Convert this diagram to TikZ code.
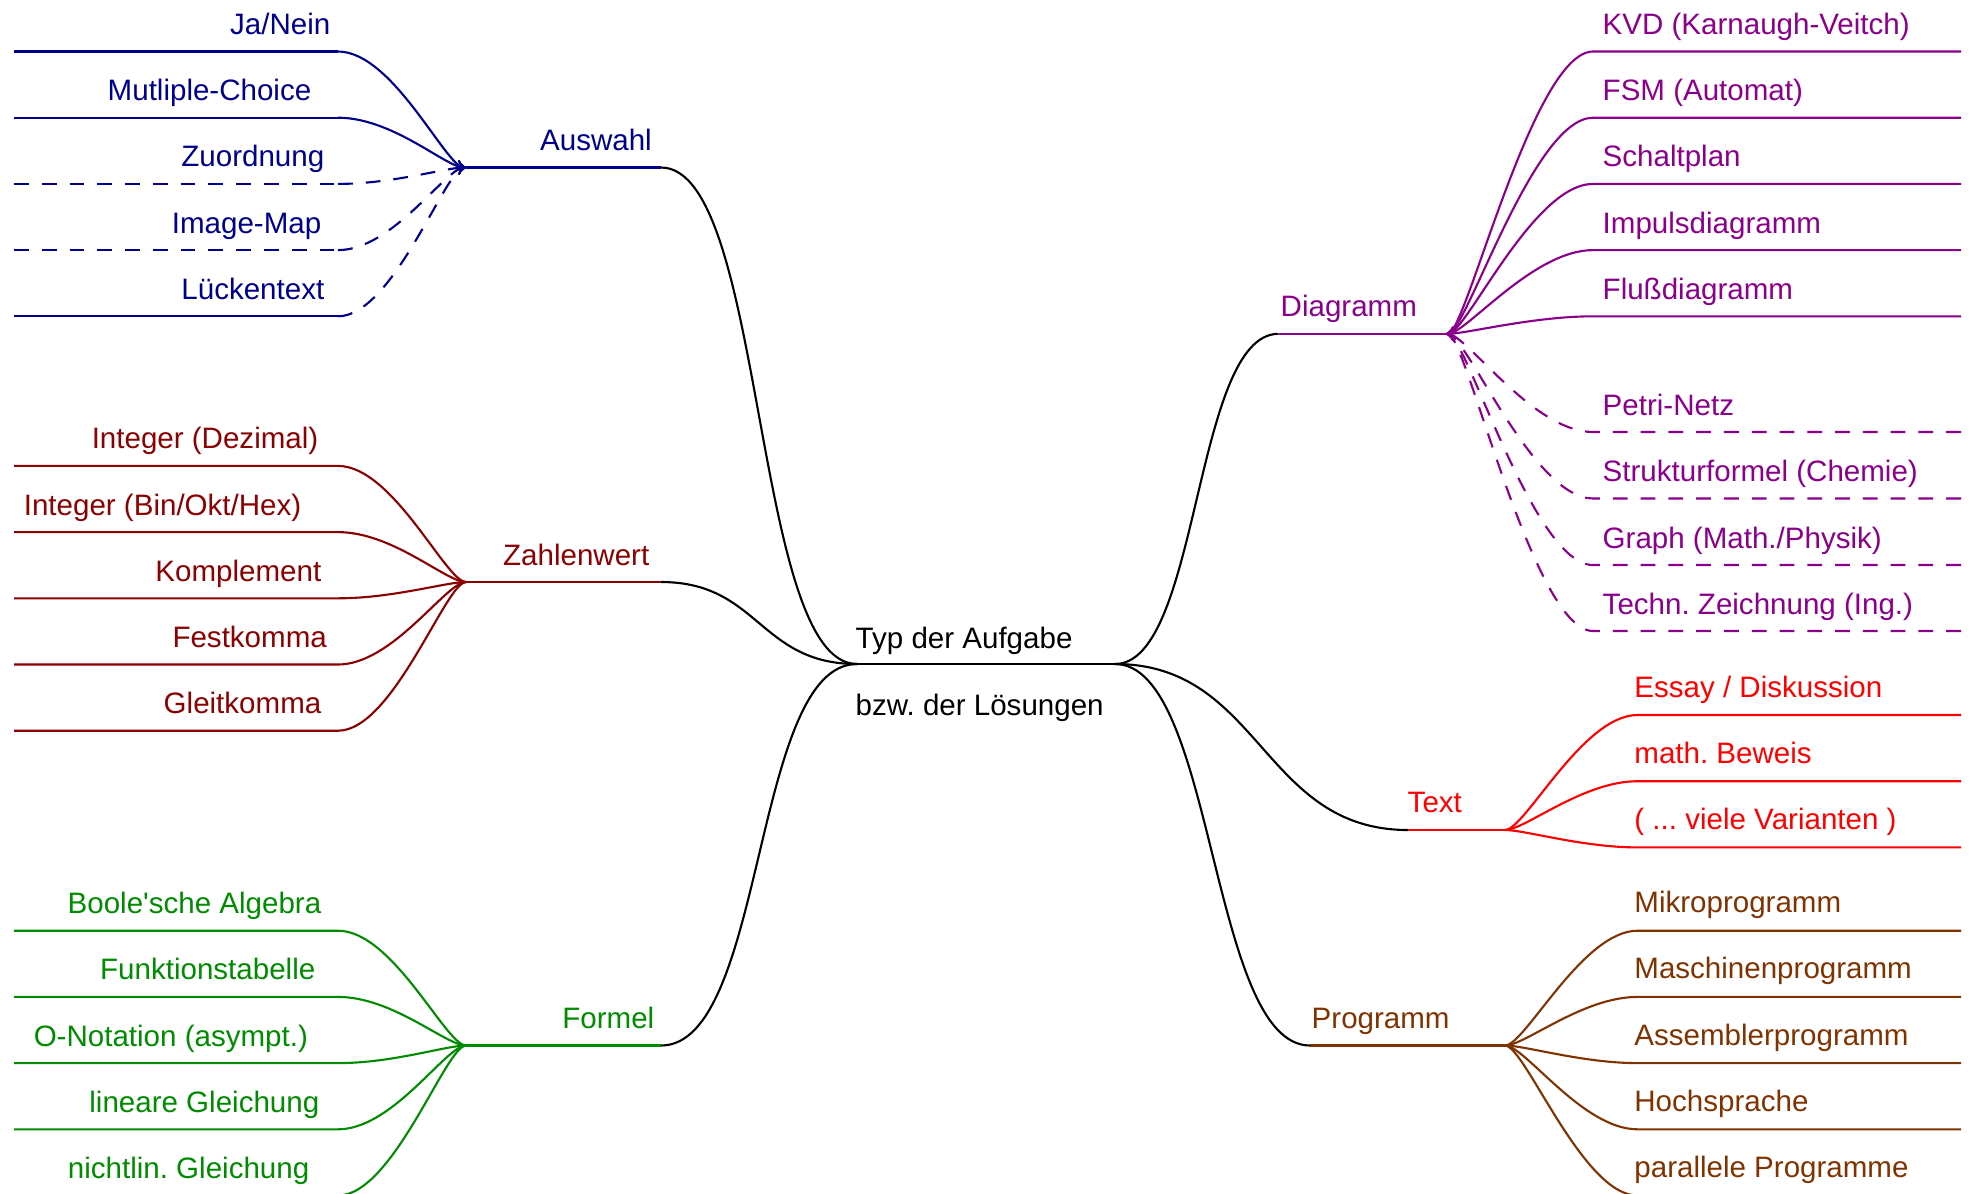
\documentclass[tikz,border=0pt]{standalone}
\usepackage{fontspec}
\setmainfont{Liberation Sans}
\frenchspacing
\definecolor{cAw}{RGB}{0,0,139}
\definecolor{cZw}{RGB}{139,0,0}
\definecolor{cFm}{RGB}{0,139,0}
\definecolor{cDg}{RGB}{139,0,139}
\definecolor{cTx}{RGB}{255,0,0}
\definecolor{cPr}{RGB}{128,51,0}
\newcommand\vielvar{( ... viele Varianten )}
\tikzset{
  ast/.style={line width=0.6pt},
  dsh/.style={dash pattern=on 4.2pt off 3.7pt},
  lbl/.style={inner sep=0pt, font=\fontsize{8.4}{10}\selectfont},
}
\begin{document}
\begin{tikzpicture}[x=0.01cm,y=-0.01cm]
    \useasboundingbox (0,0) rectangle (1975,1193);
    % Wurzel
    \coordinate (mW) at (857,664);
    \coordinate (mE) at (1115,664);
    \draw[ast] (mW) -- (mE);
    \node[lbl,anchor=base west] (typ) at (855,648) {Typ der Aufgabe};
    \node[lbl,anchor=base west] (bzw) at (855,715) {bzw. der Lösungen};
    % Aeste links
    \coordinate (awE) at (661,167.5);  \coordinate (aw) at (466,167.5);
    \coordinate (zwE) at (661,582);    \coordinate (zw) at (466,582);
    \coordinate (fmE) at (661,1045.5); \coordinate (fm) at (466,1045.5);
    \draw[ast] (mW) .. controls +(-105,0) and +(105,0) .. (awE);
    \draw[ast] (mW) .. controls +(-98,0) and +(98,0) .. (zwE);
    \draw[ast] (mW) .. controls +(-105,0) and +(105,0) .. (fmE);
    \draw[ast,cAw] (awE) -- (aw);
    \draw[ast,cZw] (zwE) -- (zw);
    \draw[ast,cFm] (fmE) -- (fm);
    \node[lbl,cAw,anchor=base east] (auswahl) at (652.5,150) {Auswahl};
    \node[lbl,cZw,anchor=base east] (zahlenwert) at (650,565) {Zahlenwert};
    \node[lbl,cFm,anchor=base east] (formel) at (655,1028.5) {Formel};
    % Aeste rechts
    \coordinate (dgE) at (1278.5,333.8); \coordinate (dg) at (1446,333.8);
    \coordinate (txE) at (1408,830);     \coordinate (tx) at (1505,830);
    \coordinate (prE) at (1310,1045.5);  \coordinate (pr) at (1505,1045.5);
    \draw[ast] (mE) .. controls +(85,0) and +(-85,0) .. (dgE);
    \draw[ast] (mE) .. controls +(146,0) and +(-146,0) .. (txE);
    \draw[ast] (mE) .. controls +(100,0) and +(-100,0) .. (prE);
    \draw[ast,cDg] (dgE) -- (dg);
    \draw[ast,cTx] (txE) -- (tx);
    \draw[ast,cPr] (prE) -- (pr);
    \node[lbl,cDg,anchor=base west] (diagramm) at (1280,316.5) {Diagramm};
    \node[lbl,cTx,anchor=base west] (text) at (1407,812.5) {Text};
    \node[lbl,cPr,anchor=base west] (programm) at (1311,1028.5) {Programm};

    % Blaetter Auswahl
    \foreach \n/\y/\xe/\txt/\stil/\kstil in {1/51.5/331/{Ja/Nein}/solid/solid,
        2/117.7/312/Mutliple-Choice/solid/solid, 3/183.9/325/Zuordnung/dsh/dsh,
        4/250.1/322/Image-Map/dsh/dsh, 5/316.3/325/Lückentext/solid/dsh}
    {
    \coordinate (aw\n a) at (14,\y); \coordinate (aw\n b) at (338,\y);
    \node[lbl,cAw,anchor=base east] (awl\n) at (\xe,\y-17) {\txt};
    \draw[ast,cAw,\stil] (aw\n a) -- (aw\n b);
    \draw[ast,cAw,\kstil,->] (aw\n b) .. controls +(55,0) and +(-20,0) .. (aw);
    }
    % Blaetter Zahlenwert
    \foreach \n/\y/\xe/\txt in {1/465.9/319/Integer (Dezimal),
        2/532.1/302/{Integer (Bin/Okt/Hex)}, 3/598.3/322/Komplement,
        4/664.5/327.5/Festkomma, 5/730.7/322/Gleitkomma}
    {
    \coordinate (zw\n a) at (14,\y); \coordinate (zw\n b) at (338,\y);
    \node[lbl,cZw,anchor=base east] (zwl\n) at (\xe,\y-17) {\txt};
    \draw[ast,cZw] (zw\n a) -- (zw\n b) .. controls +(55,0) and +(-20,0) .. (zw);
    }
    % Blaetter Formel
    \foreach \n/\y/\xe/\txt in {1/930.7/322/Boole\textquotesingle sche Algebra,
        2/996.9/316/Funktionstabelle, 3/1063.1/308.6/O-Notation (asympt.),
        4/1129.3/320/lineare Gleichung, 5/1195.5/310/nichtlin. Gleichung}
    {
    \coordinate (fm\n a) at (14,\y); \coordinate (fm\n b) at (338,\y);
    \node[lbl,cFm,anchor=base east] (fml\n) at (\xe,\y-17) {\txt};
    \draw[ast,cFm] (fm\n a) -- (fm\n b) .. controls +(55,0) and +(-20,0) .. (fm);
    }
    % Blaetter Diagramm
    \foreach \n/\y/\txt/\stil in {1/51.5/KVD (Karnaugh-Veitch)/solid,
        2/117.7/FSM (Automat)/solid, 3/183.9/Schaltplan/solid,
        4/250.1/Impulsdiagramm/solid, 5/316.3/Flußdiagramm/solid,
        6/432/Petri-Netz/dsh, 7/498.5/Strukturformel (Chemie)/dsh,
        8/565/{Graph (Math./Physik)}/dsh, 9/631/Techn. Zeichnung (Ing.)/dsh}
    {
    \coordinate (dg\n a) at (1593,\y); \coordinate (dg\n b) at (1961,\y);
    \node[lbl,cDg,anchor=base west] (dgl\n) at (1602,\y-17) {\txt};
    \draw[ast,cDg,\stil,->] (dg\n b) -- (dg\n a) .. controls +(-60,0) and +(20,0) .. (dg);
    }
    % Blaetter Text
    \foreach \n/\y/\txt in {1/715/{Essay / Diskussion}, 2/781.2/math. Beweis,
        3/847.4/\vielvar}
    {
    \coordinate (tx\n a) at (1637.5,\y); \coordinate (tx\n b) at (1961,\y);
    \node[lbl,cTx,anchor=base west] (txl\n) at (1633.7,\y-18) {\txt};
    \draw[ast,cTx] (tx\n b) -- (tx\n a) .. controls +(-55,0) and +(20,0) .. (tx);
    }
    % Blaetter Programm
    \foreach \n/\y/\txt in {1/930.7/Mikroprogramm, 2/996.9/Maschinenprogramm,
        3/1063.1/Assemblerprogramm, 4/1129.3/Hochsprache,
        5/1195.5/parallele Programme}
    {
    \coordinate (pr\n a) at (1637.5,\y); \coordinate (pr\n b) at (1961,\y);
    \node[lbl,cPr,anchor=base west] (prl\n) at (1633.7,\y-18) {\txt};
    \draw[ast,cPr] (pr\n b) -- (pr\n a) .. controls +(-55,0) and +(20,0) .. (pr);
    }
\end{tikzpicture}
\end{document}
